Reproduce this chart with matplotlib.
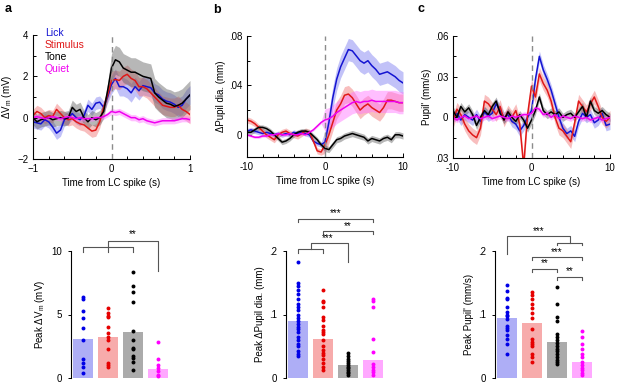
import matplotlib
matplotlib.use("Agg")
import matplotlib.pyplot as plt
import numpy as np

plt.rcParams['font.family'] = ['Liberation Sans', 'DejaVu Sans']
plt.rcParams['font.size'] = 7
plt.rcParams['mathtext.default'] = 'regular'

# ---------------------------------------------------
# COLOURS
# ---------------------------------------------------

LINE_COLS = ['#1414d2', '#e01818', '#000000', '#f000f0']
BAND_COLS = ['#7878f0', '#f07070', '#606060', '#ff70ff']
BAR_COLS = ['#aeaef6', '#f7abab', '#ababab', '#ffa8ff']
DOT_COLS = ['#0000e6', '#e60000', '#000000', '#ff00ff']
NAMES = ['Lick', 'Stimulus', 'Tone', 'Quiet']

# ---------------------------------------------------
# DATA: panel a (Vm, -1..1 s, step 0.05)
# ---------------------------------------------------

t_a = np.round(np.arange(-1, 1.0001, 0.05), 2)

vm_lick = [-0.2, -0.25, -0.3, -0.1, -0.2, -0.45, -0.75, -0.6, -0.1, 0.0, 0.2, 0.0, -0.1, 0.1,
           0.6, 0.4, 0.7, 0.75, 0.5, 1.0, 1.6, 1.9, 1.5, 1.5, 1.4, 1.2, 1.5, 1.3, 1.55, 1.5,
           1.45, 1.2, 1.1, 0.9, 0.8, 0.75, 0.65, 0.5, 0.6, 0.9, 1.1]
vm_stim = [0.1, 0.3, 0.2, 0.0, 0.1, 0.05, 0.4, 0.2, 0.0, -0.1, -0.05, -0.2, -0.3, -0.35,
           -0.5, -0.65, -0.6, -0.2, 0.5, 1.1, 1.8, 1.85, 1.8, 2.0, 2.1, 1.9, 1.8, 1.5, 1.5,
           1.4, 1.2, 1.0, 0.8, 0.6, 0.55, 0.5, 0.5, 0.6, 0.4, 0.3, 0.15]
vm_tone = [0.0, -0.2, -0.1, -0.05, 0.0, -0.1, -0.05, 0.0, -0.05, 0.0, 0.5, 0.3, 0.4, 0.0,
           -0.2, 0.0, -0.1, 0.0, 0.3, 1.3, 2.4, 2.8, 2.7, 2.4, 2.3, 2.2, 2.2, 2.1, 2.0, 1.95,
           1.9, 1.2, 1.0, 0.85, 0.7, 0.65, 0.55, 0.6, 0.7, 0.9, 1.1]
vm_quiet = [0.0, 0.05, 0.0, -0.05, 0.0, 0.05, 0.0, -0.05, 0.0, 0.05, 0.0, -0.05, 0.0, -0.05,
            -0.05, -0.05, 0.0, 0.0, 0.05, 0.15, 0.3, 0.25, 0.3, 0.2, 0.1, 0.0, 0.0, -0.1,
            -0.05, -0.15, -0.2, -0.25, -0.2, -0.15, -0.15, -0.15, -0.15, -0.1, -0.05, -0.05, -0.1]
vm_sem_pre = [0.3, 0.3, 0.35, 0.12]
vm_sem_post = [0.45, 0.45, 0.7, 0.15]

# ---------------------------------------------------
# DATA: panel b (pupil diameter, -10..10 s, step 0.5)
# ---------------------------------------------------

t_b = np.round(np.arange(-10, 10.001, 0.5), 1)

pd_lick = [0.003, 0.004, 0.003, 0.002, 0.001, 0.002, 0.001, 0.0, 0.001, 0.0, 0.001, 0.0,
           0.002, 0.001, 0.002, 0.001, 0.0, -0.005, -0.007, -0.008, -0.006, 0.01, 0.03,
           0.045, 0.055, 0.062, 0.069, 0.068, 0.064, 0.06, 0.058, 0.06, 0.056, 0.053, 0.049,
           0.05, 0.051, 0.049, 0.047, 0.044, 0.042]
pd_stim = [0.012, 0.011, 0.009, 0.006, 0.003, 0.0, -0.002, -0.004, 0.0, 0.002, 0.003, 0.001,
           0.0, -0.001, 0.001, 0.003, 0.002, -0.005, -0.013, -0.014, -0.008, 0.0, 0.01, 0.02,
           0.025, 0.032, 0.033, 0.03, 0.025, 0.02, 0.023, 0.025, 0.022, 0.02, 0.018, 0.022,
           0.028, 0.028, 0.027, 0.026, 0.026]
pd_tone = [0.002, 0.002, 0.004, 0.006, 0.006, 0.005, 0.003, 0.0, -0.003, -0.006, -0.005,
           -0.003, 0.0, 0.002, 0.003, 0.003, 0.002, -0.001, -0.004, -0.008, -0.011, -0.012,
           -0.008, -0.004, -0.003, -0.001, 0.0, 0.001, 0.0, -0.001, -0.002, -0.005, -0.003,
           -0.004, -0.005, -0.003, -0.002, -0.004, 0.0, 0.0, -0.001]
pd_quiet = [0.0, -0.001, -0.002, -0.002, -0.001, -0.001, 0.0, 0.0, 0.001, 0.0, 0.0, 0.001,
            0.0, 0.0, 0.001, 0.0, 0.002, 0.004, 0.007, 0.01, 0.012, 0.013, 0.015, 0.018, 0.02,
            0.022, 0.024, 0.026, 0.027, 0.026, 0.027, 0.027, 0.028, 0.027, 0.027, 0.027,
            0.027, 0.027, 0.027, 0.026, 0.026]
pd_sem_pre = [0.002, 0.0025, 0.002, 0.001]
pd_sem_post = [0.009, 0.007, 0.0025, 0.009]

# ---------------------------------------------------
# DATA: panel c (pupil derivative, -10..10 s, step 0.5)
# ---------------------------------------------------

pv_lick = [0.0, 0.003, -0.002, 0.002, 0.0, -0.002, 0.002, -0.003, 0.004, 0.001, 0.003, 0.01,
           0.005, 0.0, 0.002, -0.003, -0.005, -0.01, -0.006, 0.0, 0.005, 0.028, 0.045, 0.035,
           0.028, 0.02, 0.01, 0.0, -0.008, -0.012, -0.01, -0.014, -0.003, 0.003, 0.0, 0.002,
           -0.004, -0.002, 0.003, -0.006, -0.005]
pv_stim = [-0.003, 0.006, 0.002, -0.005, -0.01, -0.013, -0.015, -0.008, 0.012, 0.01, 0.006,
           0.002, 0.008, -0.002, 0.004, 0.0, 0.005, -0.005, -0.036, 0.002, 0.023, 0.015, 0.032,
           0.025, 0.02, 0.012, 0.0, -0.008, -0.01, -0.014, -0.018, -0.004, 0.012, 0.008, 0.004,
           0.01, 0.015, 0.008, 0.0, -0.003, 0.0]
pv_tone = [0.005, 0.0, 0.008, 0.004, 0.007, 0.002, -0.006, 0.0, 0.005, 0.002, 0.008, 0.012,
           0.003, -0.002, 0.004, 0.0, -0.003, 0.002, -0.002, -0.008, -0.002, 0.005, 0.015,
           0.005, 0.002, 0.004, 0.002, 0.004, 0.0, 0.002, 0.003, 0.0, 0.004, 0.008, 0.0, 0.012,
           0.005, 0.003, 0.005, 0.002, 0.0]
pv_quiet = [0.0, -0.002, 0.0, 0.001, -0.001, 0.0, 0.001, -0.001, 0.0, 0.001, -0.001, 0.0,
            0.001, 0.0, -0.001, 0.001, 0.0, 0.001, 0.002, 0.002, 0.003, 0.007, 0.006, 0.002,
            0.003, 0.0, 0.002, -0.001, 0.001, 0.0, -0.001, 0.001, 0.0, -0.001, 0.0, -0.002,
            -0.001, 0.0, -0.002, -0.001, 0.0]
pv_sem = [0.004, 0.005, 0.003, 0.002]

# ---------------------------------------------------
# DATA: bottom row (peak values per cell)
# ---------------------------------------------------

peak_vm = [
    [6.34, 6.21, 5.3, 4.7, 3.92, 3.0, 1.49, 1.17, 0.84, 0.39],
    [5.48, 5.09, 4.88, 4.78, 4.0, 3.52, 3.26, 3.0, 2.27, 1.17, 0.99, 0.84],
    [8.33, 7.23, 6.74, 5.95, 3.68, 3.0, 2.4, 2.3, 1.7, 1.57, 1.25, 0.65],
    [2.87, 1.51, 0.99, 0.78, 0.52, 0.26, 0.13],
]
peak_vm_mean = [3.07, 3.19, 3.6, 0.7]

peak_pd = [
    [0.183, 0.149, 0.145, 0.139, 0.133, 0.125, 0.116, 0.112, 0.107, 0.099, 0.094, 0.090,
     0.085, 0.081, 0.077, 0.072, 0.065, 0.060, 0.054, 0.050, 0.043, 0.038, 0.034],
    [0.139, 0.122, 0.119, 0.112, 0.096, 0.091, 0.082, 0.076, 0.073, 0.069, 0.060, 0.050,
     0.044, 0.040, 0.037, 0.030, 0.023, 0.018, 0.013],
    [0.040, 0.034, 0.030, 0.026, 0.023, 0.021, 0.018, 0.016, 0.013, 0.010, 0.008, 0.005],
    [0.124, 0.121, 0.112, 0.061, 0.041, 0.022, 0.017, 0.013, 0.009, 0.005],
]
peak_pd_mean = [0.0898, 0.0616, 0.0198, 0.0287]

peak_pv = [
    [0.146, 0.137, 0.126, 0.124, 0.112, 0.104, 0.099, 0.097, 0.093, 0.082, 0.079, 0.076,
     0.068, 0.061, 0.054, 0.038],
    [0.136, 0.131, 0.124, 0.117, 0.110, 0.102, 0.094, 0.077, 0.061, 0.057, 0.053, 0.050,
     0.038, 0.033, 0.025],
    [0.144, 0.116, 0.096, 0.090, 0.069, 0.064, 0.060, 0.055, 0.050, 0.046, 0.042, 0.038,
     0.033, 0.029, 0.025, 0.022],
    [0.074, 0.064, 0.054, 0.046, 0.038, 0.033, 0.025, 0.021, 0.016, 0.012, 0.008, 0.004],
]
peak_pv_mean = [0.095, 0.086, 0.056, 0.025]

# ---------------------------------------------------
# FIGURE
# ---------------------------------------------------

fig = plt.figure(figsize=(6.17, 3.84), dpi=100)

W, H = 617.0, 384.0


def px_axes(left, top, right, bottom):
    return fig.add_axes([left / W, 1 - bottom / H, (right - left) / W, (bottom - top) / H])


def trace_axes(ax, t, series, sem_pre, sem_post, xlim, ylim):
    for i in range(4):
        y = np.array(series[i])
        sem = np.where(t < 0, sem_pre[i], sem_post[i])
        ax.fill_between(t, y - sem, y + sem, color=BAND_COLS[i], alpha=0.45, lw=0)
    for i in range(4):
        ax.plot(t, series[i], color=LINE_COLS[i], lw=1.1)
    ax.axvline(0, color='#8c8c8c', lw=1, dashes=(4, 3), zorder=5)
    ax.set_xlim(xlim)
    ax.set_ylim(ylim)
    ax.spines['top'].set_visible(False)
    ax.spines['right'].set_visible(False)
    ax.tick_params(which='both', direction='in', length=3, width=0.7)
    ax.tick_params(which='minor', length=2)
    ax.set_xlabel('Time from LC spike (s)', labelpad=3)


# top a
ax_a = px_axes(33, 35, 190, 159)
trace_axes(ax_a, t_a, [vm_lick, vm_stim, vm_tone, vm_quiet], vm_sem_pre, vm_sem_post,
           (-1, 1), (-2, 4))
ax_a.set_xticks([-1, 0, 1])
ax_a.set_xticks(np.arange(-0.8, 1, 0.2), minor=True)
ax_a.set_yticks([-2, 0, 2, 4])
ax_a.set_yticks([-1, 1, 3], minor=True)
ax_a.set_ylabel('ΔV$_m$ (mV)', labelpad=2)
for i, name in enumerate(NAMES):
    ax_a.text(0.076, 1.016 - i * 0.097, name, color=LINE_COLS[i], fontsize=7.5,
              transform=ax_a.transAxes, va='center', ha='left')

# top b
ax_b = px_axes(247, 36, 403, 157)
trace_axes(ax_b, t_b, [pd_lick, pd_stim, pd_tone, pd_quiet], pd_sem_pre, pd_sem_post,
           (-10, 10), (-0.018, 0.08))
ax_b.set_xticks([-10, 0, 10])
ax_b.set_xticklabels(['-10', '0', '10'])
ax_b.set_xticks([-8, -6, -4, -2, 2, 4, 6, 8], minor=True)
ax_b.set_yticks([0, 0.04, 0.08])
ax_b.set_yticklabels(['0', '.04', '.08'])
ax_b.set_yticks([0.02, 0.06], minor=True)
ax_b.set_ylabel('ΔPupil dia. (mm)', labelpad=2)

# top c
ax_c = px_axes(453, 36, 610, 158)
trace_axes(ax_c, t_b, [pv_lick, pv_stim, pv_tone, pv_quiet], pv_sem, pv_sem,
           (-10, 10), (-0.03, 0.06))
ax_c.set_xticks([-10, 0, 10])
ax_c.set_xticklabels(['-10', '0', '10'])
ax_c.set_xticks([-8, -6, -4, -2, 2, 4, 6, 8], minor=True)
ax_c.set_yticks([-0.03, 0, 0.03, 0.06])
ax_c.set_yticklabels(['.03', '0', '.03', '.06'])
ax_c.set_yticks([-0.015, 0.015, 0.045], minor=True)
ax_c.set_ylabel("Pupil' (mm/s)", labelpad=2)


# ---------------------------------------------------
# BOTTOM ROW
# ---------------------------------------------------

def bar_axes(ax, vals, means, ylim):
    x = np.arange(4)
    ax.bar(x, means, width=0.8, color=BAR_COLS, zorder=1)
    for i in range(4):
        ax.scatter(np.full(len(vals[i]), i), vals[i], s=8, color=DOT_COLS[i], zorder=3,
                   lw=0)
    ax.set_xlim(-0.5, 3.5)
    ax.set_ylim(ylim)
    for s in ['top', 'right', 'bottom']:
        ax.spines[s].set_visible(False)
    ax.set_xticks([])
    ax.tick_params(direction='out', length=2.5, width=0.7)


def bracket(ax, x0, x1, y, drop, col='#555555'):
    ax.plot([x0, x0, x1, x1], [y - drop, y, y, y - drop], color=col, lw=0.8,
            clip_on=False)


def stars(ax, x, y, s):
    ax.text(x, y, s, ha='center', va='center', fontsize=7, clip_on=False)


bx_a = px_axes(70.5, 251, 170.5, 378)
bar_axes(bx_a, peak_vm, peak_vm_mean, (0, 10))
bx_a.set_yticks([0, 5, 10])
bx_a.set_ylabel('Peak ΔV$_m$ (mV)', labelpad=3)
bx_a.plot([0, 0, 2, 2], [9.95, 10.3, 10.3, 9.95], color='#555555', lw=0.8, clip_on=False)
bx_a.plot([1, 1], [10.3, 9.95], color='#555555', lw=0.8, clip_on=False)
bx_a.plot([1, 1, 3, 3], [10.3, 10.8, 10.8, 8.4], color='#555555', lw=0.8, clip_on=False)
stars(bx_a, 2, 11.3, '**')

bx_b = px_axes(285.5, 251, 385.5, 378)
bar_axes(bx_b, peak_pd, peak_pd_mean, (0, 0.2))
bx_b.set_yticks([0, 0.1, 0.2])
bx_b.set_yticklabels(['0', '.1', '.2'])
bx_b.set_ylabel('Peak ΔPupil dia. (mm)', labelpad=3)
bracket(bx_b, 0, 3, 0.250, 0.005)
stars(bx_b, 1.5, 0.259, '***')
bracket(bx_b, 1, 3, 0.231, 0.005)
stars(bx_b, 2.0, 0.240, '**')
bracket(bx_b, 0, 1, 0.203, 0.006)
bx_b.plot([0.5, 0.5, 2, 2], [0.203, 0.213, 0.213, 0.183], color='#555555', lw=0.8,
          clip_on=False)
stars(bx_b, 1.2, 0.220, '***')

bx_c = px_axes(494.5, 251, 594.5, 378)
bar_axes(bx_c, peak_pv, peak_pv_mean, (0, 0.2))
bx_c.set_yticks([0, 0.1, 0.2])
bx_c.set_yticklabels(['0', '.1', '.2'])
bx_c.set_ylabel("Peak Pupil' (mm/s)", labelpad=3)
bracket(bx_c, 2, 3, 0.213, 0.004)
bx_c.plot([0, 0, 2.5, 2.5], [0.195, 0.224, 0.224, 0.213], color='#555555', lw=0.8,
          clip_on=False)
stars(bx_c, 1.25, 0.231, '***')
bracket(bx_c, 1, 3, 0.191, 0.005)
stars(bx_c, 2.0, 0.199, '***')
bracket(bx_c, 1, 2, 0.172, 0.005)
stars(bx_c, 1.5, 0.181, '**')
bracket(bx_c, 2, 3, 0.159, 0.005)
stars(bx_c, 2.5, 0.168, '**')

# ---------------------------------------------------
# PANEL LETTERS
# ---------------------------------------------------

fig.text(5 / W, 1 - 9 / H, 'a', fontsize=9, fontweight='bold', va='center')
fig.text(213 / W, 1 - 10 / H, 'b', fontsize=9, fontweight='bold', va='center')
fig.text(417 / W, 1 - 9 / H, 'c', fontsize=9, fontweight='bold', va='center')

fig.savefig('out.png', dpi=100)
